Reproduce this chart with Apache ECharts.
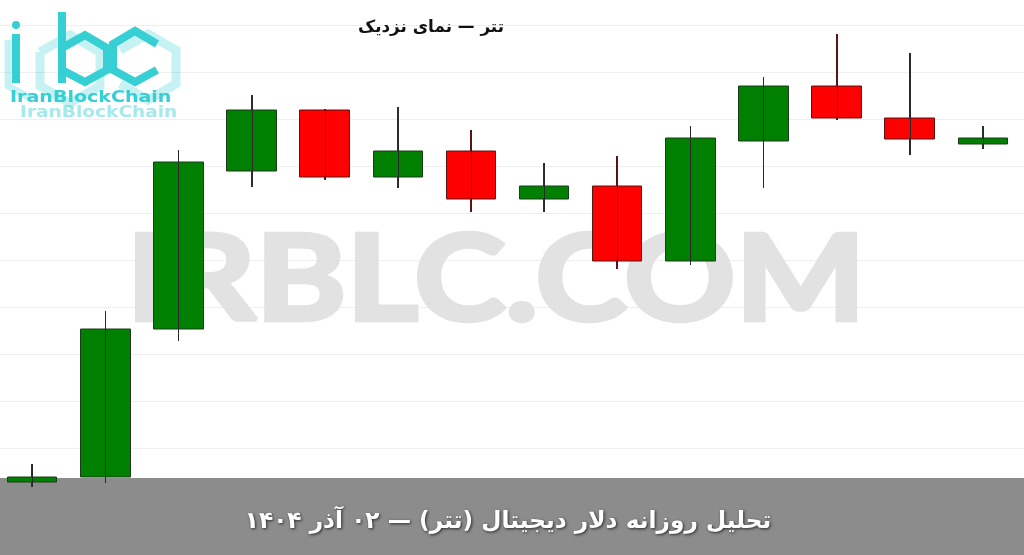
<!DOCTYPE html>
<html>
<head>
<meta charset="utf-8">
<script src="https://cdn.jsdelivr.net/npm/echarts@6/dist/echarts.min.js"></script>
<style>
html,body{margin:0;padding:0;background:#fff;}
#chart{width:1024px;height:555px;}
</style>
</head>
<body>
<div id="chart"></div>
<script>
// Chart data (relative price units)
const categories = ['1','2','3','4','5','6','7','8','9','10','11','12','13','14'];
const openValues  = [13, 18, 166, 324, 385, 318, 344, 296, 309, 234, 354, 409, 377, 351];
const closeValues = [18, 166, 333, 385, 318, 344, 296, 309, 234, 357, 409, 377, 356, 357];
const lowValues   = [8, 12, 154, 308, 315, 307, 283, 283, 226, 230, 307, 375, 340, 346];
const highValues  = [31, 184, 345, 400, 386, 388, 365, 332, 339, 369, 418, 461, 442, 369];
const titleText = 'تتر — نمای نزدیک';
const bandText = 'تحلیل روزانه دلار دیجیتال (تتر) — ۰۲ آذر ۱۴۰۴';
const watermarkText = 'IRBLC.COM';
const logoText = 'IranBlockChain';

const candleData = categories.map((c, i) => [i, openValues[i], closeValues[i], lowValues[i], highValues[i]]);
const wickData = categories.map((c, i) => [i, lowValues[i], highValues[i]]);

const chart = echarts.init(document.getElementById('chart'), null, {renderer: 'canvas'});

const cyan = '#35cfd4';
const cyanLight = 'rgba(53,207,212,0.28)';

const logoGraphics = [
  {type: 'polyline', z: 5, shape: {points: [[40,52],[70,35],[100,52],[100,86],[70,103],[40,86],[40,52]]}, style: {stroke: cyanLight, lineWidth: 9, fill: null}},
  {type: 'polyline', z: 5, shape: {points: [[120,50],[148,34],[176,50],[176,84],[148,100],[120,84]]}, style: {stroke: cyanLight, lineWidth: 9, fill: null}},
  {type: 'polyline', z: 5, shape: {points: [[8,40],[8,86],[30,98]]}, style: {stroke: cyanLight, lineWidth: 7, fill: null}},
  {type: 'circle', z: 6, shape: {cx: 16, cy: 25, r: 4}, style: {fill: cyan}},
  {type: 'line', z: 6, shape: {x1: 16, y1: 34, x2: 16, y2: 83}, style: {stroke: cyan, lineWidth: 8}},
  {type: 'line', z: 6, shape: {x1: 62, y1: 12, x2: 62, y2: 83}, style: {stroke: cyan, lineWidth: 8}},
  {type: 'polyline', z: 6, shape: {points: [[62,48],[85,35],[107,48],[107,70],[85,82],[62,70]]}, style: {stroke: cyan, lineWidth: 8, fill: null}},
  {type: 'polyline', z: 6, shape: {points: [[157,44],[135,31],[113,44],[113,70],[135,82],[157,70]]}, style: {stroke: cyan, lineWidth: 8, fill: null}},
  {type: 'text', z: 6, x: 10, y: 90, scaleX: 1.19, style: {text: logoText, font: 'bold 16px "DejaVu Sans"', fill: cyan}},
  {type: 'text', z: 6, x: 20, y: 105, scaleX: 1.16, style: {text: logoText, font: 'bold 16px "DejaVu Sans"', fill: 'rgba(53,207,212,0.45)'}}
];

const option = {
  animation: false,
  backgroundColor: '#ffffff',
  grid: {left: 0, right: 0, top: 25, bottom: 60, containLabel: false},
  xAxis: {
    type: 'value',
    min: -0.4404,
    max: 13.564,
    axisLine: {show: false},
    axisTick: {show: false},
    axisLabel: {show: false},
    splitLine: {show: false}
  },
  yAxis: {
    type: 'value',
    min: 0,
    max: 470,
    interval: 47,
    axisLine: {show: false},
    axisTick: {show: false},
    axisLabel: {show: false},
    splitLine: {show: true, lineStyle: {color: '#efefef', width: 1}}
  },
  graphic: [
    {type: 'text', z: 1, x: 496, y: 282, scaleX: 1.027, scaleY: 0.88, style: {text: watermarkText, font: 'bold 134px Lato', fill: '#e2e2e2', stroke: '#e2e2e2', lineWidth: 5, align: 'center', verticalAlign: 'middle'}},
    {type: 'rect', z: 1, shape: {x: 0, y: 478, width: 1024, height: 77}, style: {fill: '#8c8c8c'}},
    {type: 'text', z: 10, x: 508, y: 522, style: {text: bandText, font: 'bold 23.3px "DejaVu Sans"', fill: '#ffffff', align: 'center', verticalAlign: 'middle', textShadowColor: 'rgba(0,0,0,0.7)', textShadowBlur: 3, textShadowOffsetX: 1, textShadowOffsetY: 1}},
    {type: 'text', z: 10, x: 431, y: 28, style: {text: titleText, font: 'bold 16.8px "DejaVu Sans"', fill: '#111111', align: 'center', verticalAlign: 'middle'}}
  ].concat(logoGraphics),
  series: [
    {
      type: 'candlestick',
      z: 2,
      data: candleData,
      encode: {x: 0, y: [1, 2, 3, 4]},
      barWidth: 50,
      itemStyle: {
        color: '#008000',
        color0: '#ff0000',
        borderColor: '#1d3b1d',
        borderColor0: '#5a1414',
        borderWidth: 1
      }
    },
    {
      type: 'custom',
      z: 3,
      data: wickData,
      encode: {x: 0, y: [1, 2]},
      renderItem: function (params, api) {
        const lo = api.coord([api.value(0), api.value(1)]);
        const hi = api.coord([api.value(0), api.value(2)]);
        const x = Math.round(lo[0]) + 0.5;
        return {
          type: 'line',
          shape: {x1: x, y1: lo[1], x2: x, y2: hi[1]},
          style: {stroke: '#2a2a2a', lineWidth: 1}
        };
      }
    }
  ]
};
chart.setOption(option);
</script>
</body>
</html>
